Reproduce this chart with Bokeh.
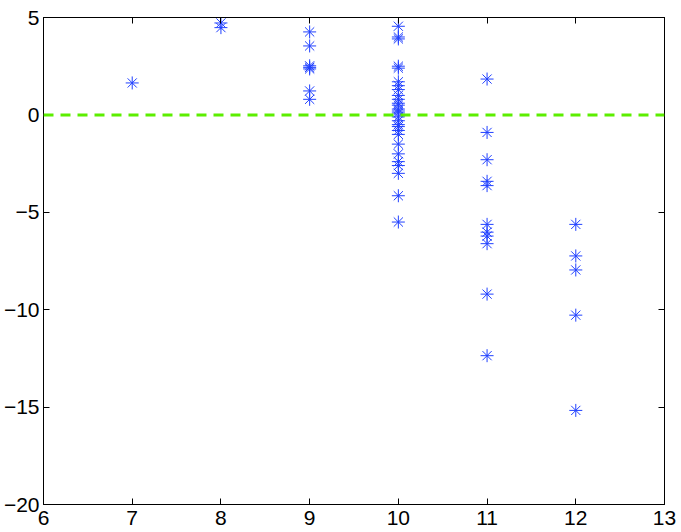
from bokeh.plotting import figure
from bokeh.models import (ColumnDataSource, Span, FixedTicker, LinearAxis,
                          CustomJSTickFormatter, Range1d, CustomLabelingPolicy)
from bokeh.embed import file_html
from bokeh.resources import INLINE

# ---- data ----
x7 = [1.64]
x8 = [4.72, 4.48]
x9 = [4.26, 3.54, 2.52, 2.44, 2.36, 1.23, 0.80]
x10 = [4.55, 4.0, 3.9, 2.5, 2.4, 1.7, 1.5, 1.3, 1.0, 0.8, 0.6, 0.5, 0.3, 0.2,
       0.1, -0.1, -0.3, -0.5, -0.6, -0.8, -1.0, -1.5, -2.0, -2.4, -2.6, -3.0,
       -4.15, -5.5]
x11 = [1.84, -0.90, -2.30, -3.41, -3.63, -5.62, -6.02, -6.22, -6.61, -9.20,
       -12.36]
x12 = [-5.62, -7.24, -7.96, -10.28, -15.17]
groups = [7, 8, 9, 10, 11, 12]
series = [x7, x8, x9, x10, x11, x12]

x_ticks = [6, 7, 8, 9, 10, 11, 12, 13]
y_ticks = [-20, -15, -10, -5, 0, 5]

xs, ys = [], []
for g, vals in zip(groups, series):
    for v in vals:
        xs.append(g)
        ys.append(v)
src = ColumnDataSource(dict(x=xs, y=ys))

FONT = "Liberation Sans"
FS = "21px"

p = figure(output_backend="svg", toolbar_location=None,
           x_range=Range1d(6, 13), y_range=Range1d(-20, 5),
           frame_width=621, frame_height=487,
           min_border_left=34, min_border_top=9, min_border_right=10,
           min_border_bottom=24)
p.xgrid.visible = False
p.ygrid.visible = False
p.outline_line_color = "black"
p.background_fill_color = "white"
p.border_fill_color = "white"

fmt = CustomJSTickFormatter(code="return tick.toString().replace('-', '\u2212');")

for ax, ticks in ((p.xaxis[0], x_ticks), (p.yaxis[0], y_ticks)):
    ax.ticker = FixedTicker(ticks=ticks)
    ax.formatter = fmt
    ax.major_tick_in = 6
    ax.major_tick_out = 0
    ax.minor_tick_line_color = None
    ax.axis_line_color = "black"
    ax.major_tick_line_color = "black"
    ax.major_label_text_font = FONT
    ax.major_label_text_font_size = FS
    ax.major_label_text_color = "black"
p.xaxis[0].major_label_standoff = 6
p.yaxis[0].major_label_standoff = 4

hide_all = CustomLabelingPolicy(
    code="return new indices.constructor(indices.size);")

# ticks on top and right (no labels)
for loc, ticks in (("above", x_ticks), ("right", y_ticks)):
    ax = LinearAxis(ticker=FixedTicker(ticks=ticks))
    ax.major_tick_in = 6
    ax.major_tick_out = 0
    ax.minor_tick_line_color = None
    ax.major_label_policy = hide_all
    ax.major_label_standoff = 6 if loc == "above" else 0
    ax.axis_line_color = "black"
    p.add_layout(ax, loc)

zero = Span(location=0, dimension="width", line_color="#5cee00",
            line_width=3, line_dash="10 7")
p.add_layout(zero)

p.scatter("x", "y", source=src, marker="asterisk", size=13,
          line_color="#2040ff", line_width=1)

open("out.html", "w").write(file_html(p, INLINE))
